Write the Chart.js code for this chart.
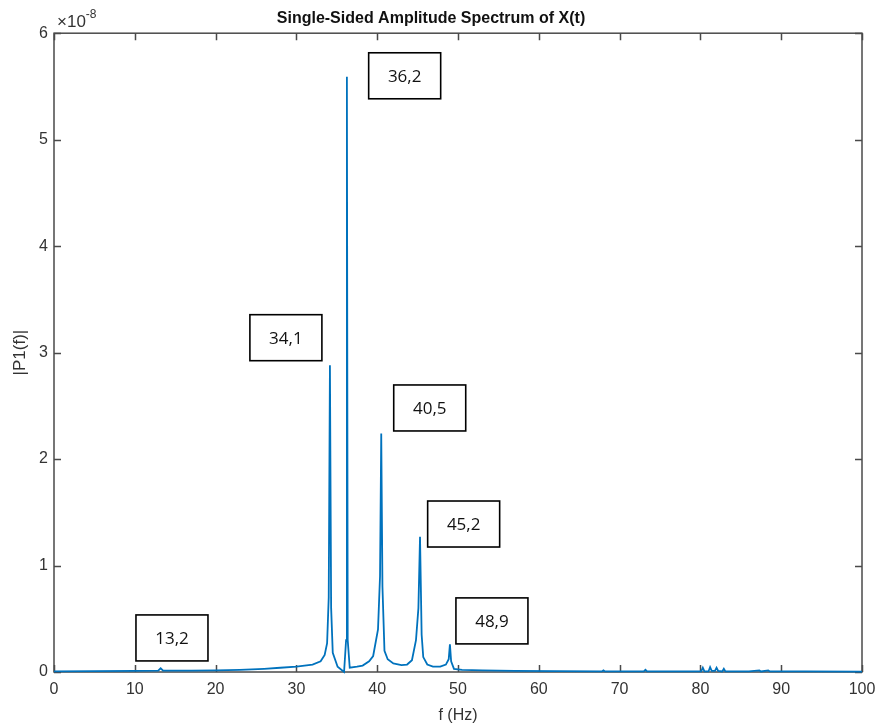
<!DOCTYPE html>
<html>
<head>
<meta charset="utf-8">
<script src="https://cdn.jsdelivr.net/npm/chart.js@4/dist/chart.umd.min.js"></script>
<style>
  html, body { margin: 0; padding: 0; background: #fff; }
  #wrap { width: 879px; height: 727px; }
</style>
</head>
<body>
<div id="wrap"><canvas id="spectrum" width="879" height="727"></canvas></div>
<script>
// frequency axis (Hz) and amplitude in units of 1e-8
const freqHz = [
  0, 5, 10, 12.9, 13.2, 13.5, 17, 20, 23, 26, 28, 30, 32, 33.0, 33.5, 33.8, 34.0,
  34.15, 34.3, 34.5, 35.1, 35.9, 36.15, 36.25, 36.35, 36.6, 37.5, 38.2, 39.0, 39.5,
  40.1, 40.35, 40.5, 40.65, 40.9, 41.3, 42, 43, 43.7, 44.3, 44.8, 45.1, 45.3, 45.5,
  45.7, 46.2, 46.9, 47.8, 48.5, 48.85, 49.0, 49.15, 49.5, 50.5, 53, 57, 62, 67.8,
  68, 68.2, 73, 73.2, 73.4, 78, 80.1, 80.3, 80.5, 81.0, 81.2, 81.4, 81.8, 82.0,
  82.2, 82.7, 82.9, 83.1, 86, 87.3, 87.5, 88.4, 88.6, 93, 100
];
const amplitude = [
  0.005, 0.008, 0.01, 0.012, 0.035, 0.012, 0.012, 0.015, 0.02, 0.03, 0.04, 0.05, 0.07, 0.1, 0.16, 0.27, 0.7,
  2.88, 0.6, 0.18, 0.05, 0.0, 0.3, 5.59, 0.3, 0.04, 0.05, 0.06, 0.1, 0.15,
  0.4, 0.9, 2.24, 0.8, 0.2, 0.12, 0.08, 0.065, 0.07, 0.11, 0.3, 0.6, 1.27, 0.35,
  0.14, 0.07, 0.05, 0.05, 0.07, 0.12, 0.26, 0.1, 0.03, 0.02, 0.015, 0.01, 0.008, 0.005,
  0.015, 0.005, 0.005, 0.02, 0.005, 0.005, 0.005, 0.04, 0.005, 0.005, 0.045, 0.01, 0.01, 0.04,
  0.01, 0.005, 0.03, 0.005, 0.005, 0.015, 0.005, 0.015, 0.005, 0.005, 0.003
];

// peak callout labels and where their boxes sit (data units: Hz, 1e-8)
const calloutText = ['13,2', '34,1', '36,2', '40,5', '45,2', '48,9'];
const calloutX    = [14.6, 28.7, 43.4, 46.5, 50.7, 54.2];
const calloutY    = [0.32, 3.14, 5.6, 2.48, 1.39, 0.48];

const AXIS_COLOR = '#4a4a4a';
const TEXT_COLOR = '#333';
const LINE_BLUE  = '#0072BD';
const FONT       = "'Liberation Sans', Arial, sans-serif";

const points = freqHz.map((f, i) => ({ x: f, y: amplitude[i] }));

const frameAndTicks = {
  id: 'frameAndTicks',
  beforeDatasetsDraw(chart) {
    const { ctx, chartArea: a, scales: { x, y } } = chart;
    ctx.save();
    ctx.strokeStyle = AXIS_COLOR;
    ctx.lineWidth = 1.5;
    ctx.strokeRect(a.left, a.top, a.right - a.left, a.bottom - a.top);
    ctx.beginPath();
    x.ticks.forEach((t) => {
      const px = Math.round(x.getPixelForValue(t.value)) + 0.5;
      ctx.moveTo(px, a.bottom); ctx.lineTo(px, a.bottom - 7);
      ctx.moveTo(px, a.top);    ctx.lineTo(px, a.top + 7);
    });
    y.ticks.forEach((t) => {
      const py = Math.round(y.getPixelForValue(t.value)) + 0.5;
      ctx.moveTo(a.left, py);  ctx.lineTo(a.left + 7, py);
      ctx.moveTo(a.right, py); ctx.lineTo(a.right - 7, py);
    });
    ctx.stroke();

    // exponent marker
    ctx.fillStyle = TEXT_COLOR;
    ctx.textBaseline = 'alphabetic';
    ctx.textAlign = 'left';
    ctx.font = '17px ' + FONT;
    ctx.fillText('\u00d710', a.left + 3, a.top - 6);
    const w = ctx.measureText('\u00d710').width;
    ctx.font = '12px ' + FONT;
    ctx.fillText('-8', a.left + 3 + w, a.top - 15);
    ctx.restore();
  },
  afterDatasetsDraw(chart) {
    const { ctx, scales: { x, y } } = chart;
    ctx.save();
    ctx.font = "17px 'Open Sans', sans-serif";
    ctx.textAlign = 'center';
    ctx.textBaseline = 'middle';
    calloutText.forEach((txt, i) => {
      const cx = x.getPixelForValue(calloutX[i]);
      const cy = y.getPixelForValue(calloutY[i]);
      const bw = 72, bh = 46;
      ctx.fillStyle = '#fff';
      ctx.fillRect(cx - bw / 2, cy - bh / 2, bw, bh);
      ctx.strokeStyle = '#000';
      ctx.lineWidth = 1.6;
      ctx.strokeRect(cx - bw / 2, cy - bh / 2, bw, bh);
      ctx.fillStyle = '#111';
      ctx.fillText(txt, cx, cy + 1);
    });
    ctx.restore();
  },
};

new Chart(document.getElementById('spectrum').getContext('2d'), {
  type: 'line',
  data: {
    datasets: [{
      data: points,
      borderColor: LINE_BLUE,
      borderWidth: 1.8,
      pointRadius: 0,
      tension: 0,
      fill: false,
      clip: 4,
    }],
  },
  options: {
    responsive: false,
    animation: false,
    layout: { padding: { left: 0, right: 17, top: 0, bottom: 0 } },
    plugins: {
      legend: { display: false },
      tooltip: { enabled: false },
      title: {
        display: true,
        text: 'Single-Sided Amplitude Spectrum of X(t)',
        color: '#111',
        font: { family: FONT, size: 16, weight: 'bold' },
        padding: { top: 9, bottom: 5 },
      },
    },
    scales: {
      x: {
        type: 'linear',
        min: 0,
        max: 100,
        afterFit: (s) => { s.height = 55; s.paddingRight = 0; s.paddingLeft = 0; },
        grid: { display: false, drawTicks: false },
        border: { display: false },
        ticks: {
          stepSize: 10,
          autoSkip: false,
          maxRotation: 0,
          padding: 8,
          color: TEXT_COLOR,
          font: { family: FONT, size: 16 },
        },
        title: {
          display: true,
          text: 'f (Hz)',
          color: TEXT_COLOR,
          font: { family: FONT, size: 16 },
          padding: { top: 0, bottom: 2 },
        },
      },
      y: {
        min: 0,
        max: 6,
        afterFit: (s) => { s.width = 54; },
        grid: { display: false, drawTicks: false },
        border: { display: false },
        ticks: {
          stepSize: 1,
          padding: 6,
          color: TEXT_COLOR,
          font: { family: FONT, size: 16 },
        },
        title: {
          display: true,
          text: '|P1(f)|',
          color: TEXT_COLOR,
          font: { family: FONT, size: 17 },
          padding: { top: 10, bottom: 0 },
        },
      },
    },
  },
  plugins: [frameAndTicks],
});
</script>
</body>
</html>
